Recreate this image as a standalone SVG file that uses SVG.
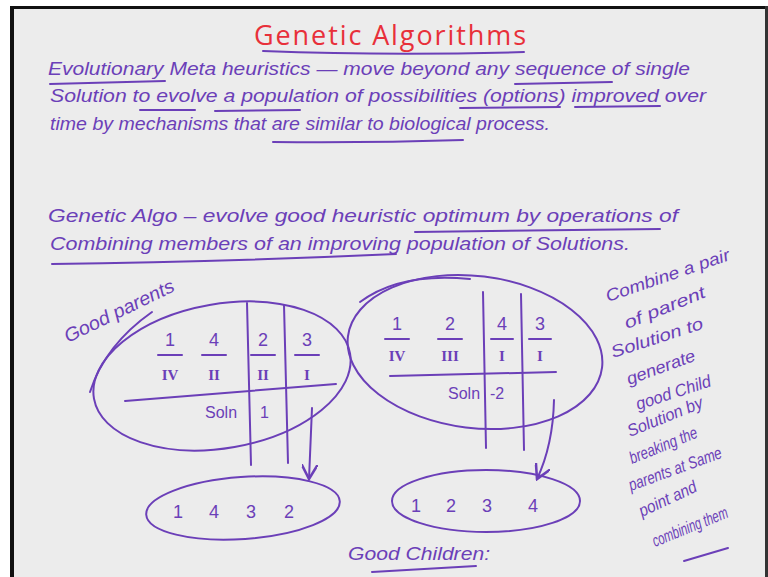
<svg xmlns="http://www.w3.org/2000/svg" width="768" height="577" viewBox="0 0 768 577">
<style>
.h{font-family:"Liberation Sans","DejaVu Sans",sans-serif;font-style:italic;fill:#6b3fb8;font-size:19px}
.c{font-family:"Liberation Sans","DejaVu Sans",sans-serif;font-style:italic;fill:#6b3fb8;font-size:17px}
.s{font-family:"Liberation Sans","DejaVu Sans",sans-serif;fill:#6b3fb8;font-size:16px}
.n{font-family:"Liberation Sans","DejaVu Sans",sans-serif;fill:#6b3fb8;font-size:18px;text-anchor:middle}
.r{font-family:"Liberation Serif","DejaVu Serif",serif;fill:#6b3fb8;font-size:15px;font-weight:bold;text-anchor:middle}
.l{fill:none;stroke:#6b3fb8;stroke-width:2;stroke-linecap:round}
.u{fill:none;stroke:#6b3fb8;stroke-width:2;stroke-linecap:round}
</style>
<defs>
<marker id="ah" viewBox="0 0 10 10" refX="9" refY="5" markerWidth="8" markerHeight="8" orient="auto">
<path d="M0,0 L9,5 L0,10" fill="none" stroke="#6b3fb8" stroke-width="1.6"/>
</marker>
</defs>
<rect width="768" height="577" fill="#ffffff"/>
<rect x="10" y="6" width="758" height="571" fill="#ececec"/>
<rect x="10" y="6" width="4" height="571" fill="#111"/>
<rect x="10" y="6" width="758" height="3" fill="#111"/>
<rect x="765" y="6" width="3" height="571" fill="#333"/>

<g id="title">
<text x="390" y="45" text-anchor="middle" font-family="'Open Sans','Noto Sans',sans-serif" font-size="27" fill="#e8303a" textLength="272">Genetic Algorithms</text>
<path class="u" d="M263,51 Q390,56 524,52"/>
</g>

<g id="intro">
<text class="h" x="48" y="75" textLength="642" lengthAdjust="spacingAndGlyphs">Evolutionary Meta heuristics — move beyond any sequence of single</text>
<text class="h" x="50" y="102" textLength="656" lengthAdjust="spacingAndGlyphs">Solution to evolve a population of possibilities (options) improved over</text>
<text class="h" x="50" y="130" textLength="500" lengthAdjust="spacingAndGlyphs">time by mechanisms that are similar to biological process.</text>
<path class="u" d="M50,84 L165,81"/>
<path class="u" d="M515,84 L612,82"/>
<path class="u" d="M140,110 L195,110"/>
<path class="u" d="M215,111 L300,110" stroke-width="3"/>
<path class="u" d="M460,108 L560,107"/>
<path class="u" d="M575,107 L660,106"/>
<path class="u" d="M273,142 Q370,143 463,140"/>
</g>

<g id="definition">
<text class="h" x="48" y="222" textLength="630" lengthAdjust="spacingAndGlyphs">Genetic Algo – evolve good heuristic optimum by operations of</text>
<text class="h" x="50" y="250" textLength="580" lengthAdjust="spacingAndGlyphs">Combining members of an improving population of Solutions.</text>
<path class="u" d="M415,232 L660,229"/>
<path class="u" d="M52,264 Q220,262 396,254"/>
</g>

<g id="good-parents">
<text class="h" x="68" y="343" transform="rotate(-26 68 343)" textLength="120" lengthAdjust="spacingAndGlyphs">Good parents</text>
<path class="l" d="M90,392 Q105,345 152,312"/>
</g>

<g id="parent1">
<ellipse class="l" cx="222" cy="376" rx="130" ry="72" transform="rotate(-10 222 376)"/>
<text class="n" x="170" y="346">1</text>
<path class="l" d="M158,355 L182,355"/>
<text class="r" x="170" y="380">IV</text>
<text class="n" x="214" y="346">4</text>
<path class="l" d="M202,355 L226,355"/>
<text class="r" x="214" y="380">II</text>
<text class="n" x="263" y="346">2</text>
<path class="l" d="M251,355 L275,355"/>
<text class="r" x="263" y="380">II</text>
<text class="n" x="307" y="346">3</text>
<path class="l" d="M295,355 L319,355"/>
<text class="r" x="307" y="380">I</text>
<path class="l" d="M247,303 L251,465"/>
<path class="l" d="M284,305 L288,463"/>
<path class="l" d="M125,401 L336,384"/>
<text class="s" x="205" y="418">Soln</text>
<text class="s" x="260" y="418">1</text>
</g>

<g id="parent2">
<ellipse class="l" cx="475" cy="352" rx="128" ry="76" transform="rotate(7 475 352)"/>
<path class="l" d="M360,302 Q400,272 470,279"/>
<text class="n" x="397" y="330">1</text>
<path class="l" d="M385,339 L409,339"/>
<text class="r" x="397" y="361">IV</text>
<text class="n" x="450" y="330">2</text>
<path class="l" d="M438,339 L462,339"/>
<text class="r" x="450" y="361">III</text>
<text class="n" x="502" y="330">4</text>
<path class="l" d="M491,339 L513,339"/>
<text class="r" x="502" y="361">I</text>
<text class="n" x="540" y="330">3</text>
<path class="l" d="M529,339 L551,339"/>
<text class="r" x="540" y="361">I</text>
<path class="l" d="M483,292 L486,448"/>
<path class="l" d="M521,294 L524,450"/>
<path class="l" d="M390,376 L556,372"/>
<text class="s" x="448" y="399">Soln</text>
<text class="s" x="490" y="399">-2</text>
</g>

<g id="connectors">
<path class="l" d="M312,408 L309,479" marker-end="url(#ah)"/>
<path class="l" d="M554,400 Q553,445 537,479" marker-end="url(#ah)"/>
</g>

<g id="child1">
<ellipse class="l" cx="243" cy="508" rx="97" ry="31" transform="rotate(-4 243 508)"/>
<text class="n" x="178" y="518">1</text>
<text class="n" x="214" y="518">4</text>
<text class="n" x="251" y="518">3</text>
<text class="n" x="289" y="518">2</text>
</g>

<g id="child2">
<ellipse class="l" cx="486" cy="501" rx="94" ry="31"/>
<text class="n" x="416" y="512">1</text>
<text class="n" x="451" y="512">2</text>
<text class="n" x="487" y="512">3</text>
<text class="n" x="533" y="512">4</text>
</g>

<g id="good-children">
<text class="h" x="348" y="560" textLength="142" lengthAdjust="spacingAndGlyphs">Good Children:</text>
<path class="u" d="M372,572 L476,566"/>
</g>

<g id="note">
<text class="c" x="608" y="302" transform="rotate(-19 608 302)" textLength="130" lengthAdjust="spacingAndGlyphs">Combine a pair</text>
<text class="c" x="627" y="329" transform="rotate(-22 627 329)" textLength="86" lengthAdjust="spacingAndGlyphs">of parent</text>
<text class="c" x="613" y="358" transform="rotate(-18 613 358)" textLength="96" lengthAdjust="spacingAndGlyphs">Solution to</text>
<text class="c" x="629" y="385" transform="rotate(-20 629 385)" textLength="72" lengthAdjust="spacingAndGlyphs">generate</text>
<text class="c" x="638" y="410" transform="rotate(-18 638 410)" textLength="78" lengthAdjust="spacingAndGlyphs">good Child</text>
<text class="c" x="630" y="437" transform="rotate(-22 630 437)" textLength="80" lengthAdjust="spacingAndGlyphs">Solution by</text>
<text class="c" x="632" y="464" transform="rotate(-22 632 464)" textLength="72" lengthAdjust="spacingAndGlyphs">breaking the</text>
<text class="c" x="631" y="491" transform="rotate(-20 631 491)" textLength="98" lengthAdjust="spacingAndGlyphs">parents at Same</text>
<text class="c" x="642" y="517" transform="rotate(-25 642 517)" textLength="62" lengthAdjust="spacingAndGlyphs">point and</text>
<text class="c" x="655" y="547" transform="rotate(-22 655 547)" textLength="80" lengthAdjust="spacingAndGlyphs">combining them</text>
<path class="u" d="M684,561 L728,548" stroke-width="4"/>
</g>
</svg>
